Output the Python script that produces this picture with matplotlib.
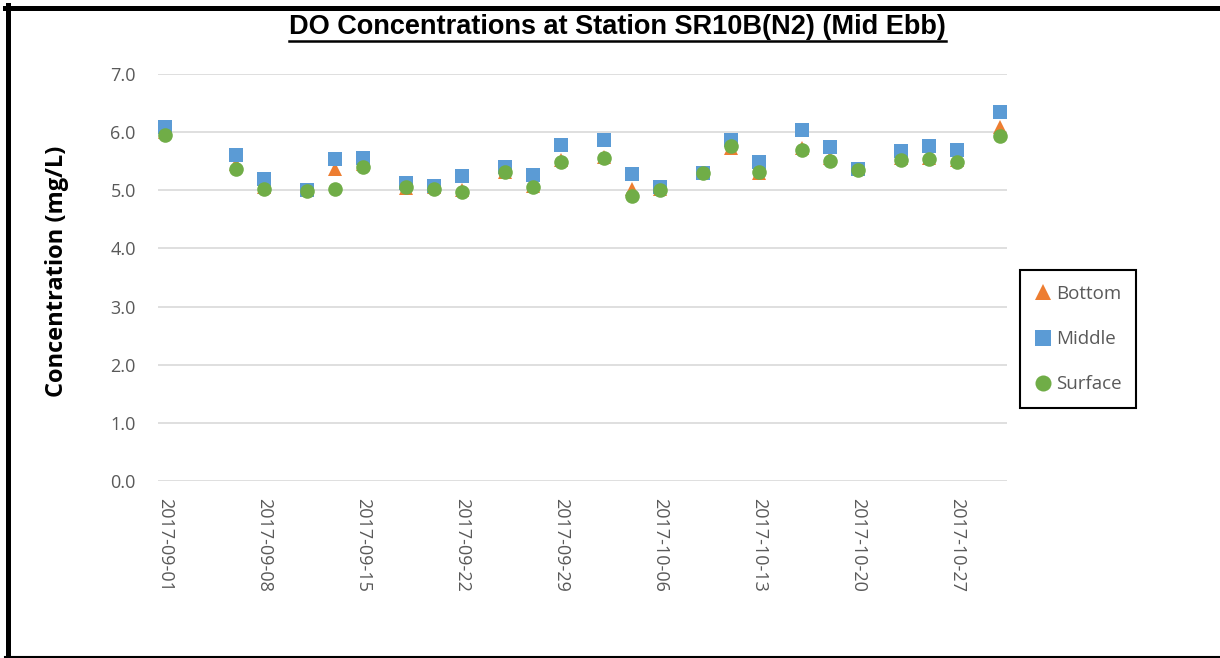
import matplotlib
matplotlib.use('Agg')
import matplotlib.pyplot as plt
import matplotlib.dates as mdates
from matplotlib.lines import Line2D
import numpy as np
import pandas as pd

# sample dates
dates = ['2017-09-01', '2017-09-06', '2017-09-08', '2017-09-11', '2017-09-13',
         '2017-09-15', '2017-09-18', '2017-09-20', '2017-09-22', '2017-09-25',
         '2017-09-27', '2017-09-29', '2017-10-02', '2017-10-04', '2017-10-06',
         '2017-10-09', '2017-10-11', '2017-10-13', '2017-10-16', '2017-10-18',
         '2017-10-20', '2017-10-23', '2017-10-25', '2017-10-27', '2017-10-30']

bottom = [6.00, 5.45, 5.05, 5.00, 5.36, 5.45, 5.04, 5.05, 5.00, 5.32,
          5.08, 5.52, 5.58, 5.03, 5.03, 5.30, 5.72, 5.30, 5.73, 5.55,
          5.36, 5.55, 5.56, 5.52, 6.08]
middle = [6.09, 5.61, 5.20, 5.01, 5.53, 5.55, 5.13, 5.08, 5.25, 5.40,
          5.27, 5.78, 5.87, 5.28, 5.05, 5.30, 5.87, 5.48, 6.03, 5.75,
          5.37, 5.67, 5.76, 5.69, 6.35]
surface = [5.95, 5.37, 5.02, 4.98, 5.03, 5.40, 5.06, 5.03, 4.97, 5.31,
           5.06, 5.49, 5.55, 4.91, 5.01, 5.29, 5.76, 5.32, 5.70, 5.51,
           5.35, 5.52, 5.53, 5.49, 5.94]

tick_dates = ['2017-09-01', '2017-09-08', '2017-09-15', '2017-09-22', '2017-09-29',
              '2017-10-06', '2017-10-13', '2017-10-20', '2017-10-27']

x = pd.to_datetime(dates)
W, H = 1220, 658
fig = plt.figure(figsize=(W / 100, H / 100), dpi=100)
ax = fig.add_axes([158 / W, 1 - 481 / H, (1007 - 158) / W, (481 - 74) / H])

ms = 10.5
ax.plot(x, bottom, linestyle='none', marker='^', ms=ms, mew=0, color='#ED7D31', label='Bottom', zorder=3)
ax.plot(x, middle, linestyle='none', marker='s', ms=ms, mew=0, color='#5B9BD5', label='Middle', zorder=4)
ax.plot(x, surface, linestyle='none', marker='o', ms=ms, mew=0, color='#70AD47', label='Surface', zorder=5)

ax.set_ylim(0, 7)
ax.set_yticks(np.arange(0, 7.1, 1.0))
ax.yaxis.set_major_formatter(matplotlib.ticker.FormatStrFormatter('%.1f'))
ax.set_xlim(pd.Timestamp('2017-08-31 12:00'), pd.Timestamp('2017-10-30 12:00'))
ax.set_xticks(pd.to_datetime(tick_dates))
ax.xaxis.set_major_formatter(mdates.DateFormatter('%Y-%m-%d'))

ax.grid(axis='y', color='#D9D9D9', linewidth=1.2, zorder=0)
ax.set_axisbelow(True)
for s in ax.spines.values():
    s.set_visible(False)
ax.tick_params(axis='both', length=0, colors='#595959', labelsize=13)
ax.tick_params(axis='y', pad=16)
ax.tick_params(axis='x', pad=12)
for lab in ax.get_xticklabels():
    lab.set_rotation(-90)
    lab.set_va('top')
    lab.set_ha('center')
for lab in ax.get_xticklabels() + ax.get_yticklabels():
    lab.set_fontfamily('Open Sans')

fig.text(57 / W, 1 - 271 / H, 'Concentration (mg/L)', rotation=90, ha='center', va='center',
         fontsize=17, fontweight='bold', family='Open Sans', color='black')

title = fig.text(617.5 / W, 1 - 34 / H, 'DO Concentrations at Station SR10B(N2) (Mid Ebb)',
                 ha='center', va='baseline', fontsize=19.5, fontweight='bold',
                 family='Liberation Sans', color='black')

leg = ax.legend(loc='upper left', bbox_to_anchor=(1020 / W, 1 - 270 / H), bbox_transform=fig.transFigure,
                frameon=True, fancybox=False, edgecolor='black', framealpha=1,
                prop={'family': 'Open Sans', 'size': 13.5}, labelspacing=1.45, markerscale=1.1,
                handlelength=0.8, handletextpad=0.3, borderpad=0.8, borderaxespad=0)
leg.get_frame().set_linewidth(1.5)
for t in leg.get_texts():
    t.set_color('#595959')

# outer frame (left, top, bottom only)
fig.add_artist(Line2D([7.5 / W, 7.5 / W], [0, 1 - 5 / H], color='black', lw=3.6, transform=fig.transFigure))
fig.add_artist(Line2D([5 / W, 1], [1 - 7.5 / H, 1 - 7.5 / H], color='black', lw=3.6, transform=fig.transFigure))
fig.add_artist(Line2D([5 / W, 1], [1 - 656.5 / H, 1 - 656.5 / H], color='black', lw=1.5, transform=fig.transFigure))

# underline the title
fig.canvas.draw()
bb = title.get_window_extent()
fig.add_artist(Line2D([bb.x0 / W, bb.x1 / W], [1 - 41 / H, 1 - 41 / H], color='black', lw=1.8,
                      transform=fig.transFigure))

fig.savefig('out.png', dpi=100)
